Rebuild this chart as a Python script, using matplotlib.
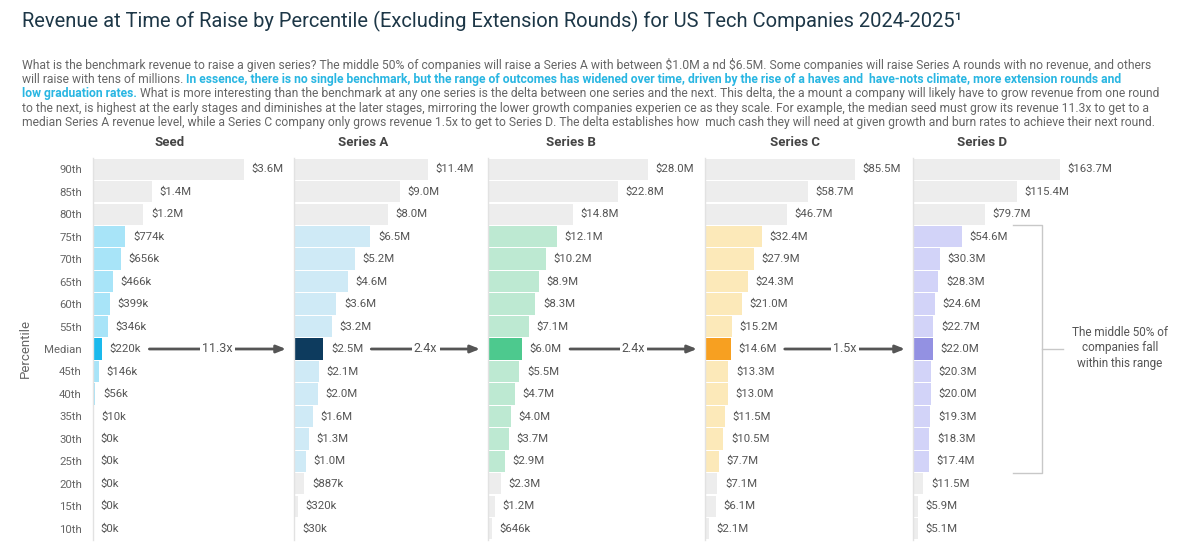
import matplotlib
matplotlib.use("Agg")
import matplotlib.pyplot as plt
from matplotlib import transforms

plt.rcParams["font.family"] = ["Roboto", "DejaVu Sans"]

# ---- data (revenue in $M) ----
percentiles = ["90th", "85th", "80th", "75th", "70th", "65th", "60th", "55th", "Median",
               "45th", "40th", "35th", "30th", "25th", "20th", "15th", "10th"]
stages = ["Seed", "Series A", "Series B", "Series C", "Series D"]
seed = [3.6, 1.4, 1.2, 0.774, 0.656, 0.466, 0.399, 0.346, 0.220, 0.146, 0.056, 0.010, 0, 0, 0, 0, 0]
series_a = [11.4, 9.0, 8.0, 6.5, 5.2, 4.6, 3.6, 3.2, 2.5, 2.1, 2.0, 1.6, 1.3, 1.0, 0.887, 0.320, 0.030]
series_b = [28.0, 22.8, 14.8, 12.1, 10.2, 8.9, 8.3, 7.1, 6.0, 5.5, 4.7, 4.0, 3.7, 2.9, 2.3, 1.2, 0.646]
series_c = [85.5, 58.7, 46.7, 32.4, 27.9, 24.3, 21.0, 15.2, 14.6, 13.3, 13.0, 11.5, 10.5, 7.7, 7.1, 6.1, 2.1]
series_d = [163.7, 115.4, 79.7, 54.6, 30.3, 28.3, 24.6, 22.7, 22.0, 20.3, 20.0, 19.3, 18.3, 17.4, 11.5, 5.9, 5.1]
growth = ["11.3x", "2.4x", "2.4x", "1.5x"]

title = "Revenue at Time of Raise by Percentile (Excluding Extension Rounds) for US Tech Companies 2024-2025\u00b9"
paragraph = [
    [("What is the benchmark revenue to raise a given series? The middle 50% of companies will raise a Series A "
      "with between $1.0M a nd $6.5M. Some companies will raise Series A rounds with no revenue, and others", False)],
    [("will raise with tens of millions. ", False),
     ("In essence, there is no single benchmark, but the range of outcomes has widened over time, driven by the "
      "rise of a haves and  have-nots climate, more extension rounds and", True)],
    [("low graduation rates.", True),
     (" What is more interesting than the benchmark at any one series is the delta between one series and the "
      "next. This delta, the a mount a company will likely have to grow revenue from one round", False)],
    [("to the next, is highest at the early stages and diminishes at the later stages, mirroring the lower growth "
      "companies experien ce as they scale. For example, the median seed must grow its revenue 11.3x to get to a", False)],
    [("median Series A revenue level, while a Series C company only grows revenue 1.5x to get to Series D. The "
      "delta establishes how  much cash they will need at given growth and burn rates to achieve their next round.", False)],
]
note = "The middle 50% of\ncompanies fall\nwithin this range"

light = ["#a8e4f8", "#cfeaf6", "#bde9d2", "#fce9b9", "#d2d3f8"]
dark = ["#1ab9ec", "#0d3b5e", "#4dc98e", "#f7a021", "#9391e2"]
grey = "#ededed"
text_col = "#555555"

W, H = 1200, 554
fig = plt.figure(figsize=(W / 100, H / 100), dpi=100)

# overlay in pixel coordinates for the free text
over = fig.add_axes([0, 0, 1, 1], zorder=5)
over.set_xlim(0, W)
over.set_ylim(H, 0)
over.axis("off")
over.patch.set_visible(False)

over.text(22, 21, title, fontsize=14.5, color="#1d3747", va="center", ha="left")

for i, line in enumerate(paragraph):
    prev = None
    for seg, bold in line:
        kw = dict(fontsize=8.7, color="#29b6e2" if bold else "#666666",
                  fontweight="bold" if bold else "normal", ha="left", va="bottom", parse_math=False)
        if prev is None:
            prev = over.text(22, 72 + i * 14.2, seg, **kw)
        else:
            prev = over.annotate(seg, xy=(1, 0), xycoords=prev, **kw)

# panel geometry (pixels)
lefts = [93, 294, 488, 705, 913]
bar_px = [151, 134, 160, 150, 147]
head_x = [170, 363, 571, 795, 982]
panel_w = 190
top, bottom = 158, 540
values = [seed, series_a, series_b, series_c, series_d]
rows = list(range(len(percentiles)))
med = percentiles.index("Median")
band = range(percentiles.index("75th"), percentiles.index("25th") + 1)

axes, med_labels = [], []
for k, vals in enumerate(values):
    ax = fig.add_axes([lefts[k] / W, 1 - bottom / H, panel_w / W, (bottom - top) / H])
    ax.patch.set_visible(False)
    vmax = max(vals)
    ax.set_xlim(0, vmax * panel_w / bar_px[k])
    ax.set_ylim(len(rows) - 0.5, -0.5)
    colors = [dark[k] if r == med else light[k] if r in band else grey for r in rows]
    ax.barh(rows, vals, height=0.95, color=colors)
    for r, v in zip(rows, vals):
        lab = f"${v * 1000:.0f}k" if v < 1 else f"${v:.1f}M"
        t = ax.annotate(lab, xy=(v, r), xytext=(5.5, 0), textcoords="offset points",
                        va="center", ha="left", fontsize=8.2, color=text_col, parse_math=False)
        if r == med:
            med_labels.append(t)
    for s in ["top", "right", "bottom"]:
        ax.spines[s].set_visible(False)
    ax.spines["left"].set_color("#e2e2e2")
    ax.spines["left"].set_linewidth(1)
    ax.set_xticks([])
    if k == 0:
        ax.set_yticks(rows)
        ax.set_yticklabels(percentiles, fontsize=8.2, color="#666666")
        ax.tick_params(axis="y", length=0, pad=8)
    else:
        ax.set_yticks([])
    over.text(head_x[k], 143, stages[k], fontsize=9.5, fontweight="bold", color="#444444",
              ha="center", va="center")
    axes.append(ax)

over.text(25, 348, "Percentile", rotation=90, fontsize=9.5, color="#666666", ha="center", va="center")

# growth arrows between medians
fig.canvas.draw()
renderer = fig.canvas.get_renderer()
inv = over.transData.inverted()
for k in range(4):
    bb = med_labels[k].get_window_extent(renderer)
    y_disp = axes[k].transData.transform((0, med))[1]
    x0, y = inv.transform((bb.x1, y_disp))
    x0 += 8
    x1 = lefts[k + 1] - 8
    over.annotate("", xy=(x1, y), xytext=(x0, y),
                  arrowprops=dict(arrowstyle="-|>,head_length=0.55,head_width=0.22", color="#555555",
                                  lw=2, shrinkA=0, shrinkB=0))
    over.text((x0 + x1) / 2, y, growth[k], fontsize=9, color=text_col, ha="center", va="center",
              bbox=dict(facecolor="white", edgecolor="none", pad=1.5))

# bracket marking the middle 50% in the last panel
axd = axes[-1]
tr = transforms.blended_transform_factory(over.transData, axd.transData)
y_top = band[0] - 0.5
y_bot = band[-1] + 0.5
bx, bx0, bx1 = 1042, 1013, 1063
kw = dict(color="#c8c8c8", lw=1, transform=tr, clip_on=False)
over.plot([bx0, bx, bx, bx0], [y_top, y_top, y_bot, y_bot], **kw)
over.plot([bx, bx1], [med, med], **kw)
over.text(1120, 348, note, fontsize=8.5, color="#555555", ha="center", va="center", linespacing=1.25)

fig.savefig("out.png", dpi=100)
